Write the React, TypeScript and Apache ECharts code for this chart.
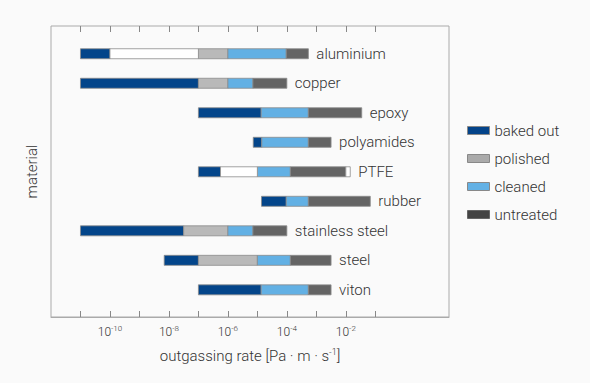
import React, { useEffect, useRef } from "react";
import * as echarts from "echarts";

// Materials (top to bottom)
const categories = ["aluminium", "copper", "epoxy", "polyamides", "PTFE", "rubber", "stainless steel", "steel", "viton"];

// Segments as [start, end] in log10 of outgassing rate (Pa·m·s^-1)
const bakedOut: ([number, number] | null)[] = [[-11, -10], [-11, -7], [-7, -4.87], [-5.14, -4.85], [-7, -6.25], [-4.86, -4.02], [-11, -7.5], [-8.16, -7], [-7, -4.87]];
const polished: ([number, number] | null)[] = [[-7, -6], [-7, -6], null, null, null, null, [-7.5, -6], [-7, -5], null];
const cleaned: ([number, number] | null)[] = [[-6, -4.02], [-6, -5.15], [-4.87, -3.27], [-4.85, -3.27], [-5, -3.88], [-4.02, -3.27], [-6, -5.15], [-5, -3.88], [-4.87, -3.27]];
const untreated: ([number, number] | null)[] = [[-4.02, -3.27], [-5.15, -4], [-3.27, -1.46], [-3.27, -2.5], [-3.88, -2], [-3.27, -1.17], [-5.15, -4], [-3.88, -2.5], [-3.27, -2.5]];
// unassigned (white) ranges: [categoryIndex, start, end]
const unassigned: [number, number, number][] = [[0, -10, -7], [4, -6.25, -5], [4, -2, -1.85]];

const tickExponents = [-11, -10, -9, -8, -7, -6, -5, -4, -3, -2, -1];
const labelExponents = [-10, -8, -6, -4, -2];

const FONT = "Roboto";
const WEIGHT = 300;
const TEXT = "#333";
const BAR_H = 10;
const TICK_LEN = 6;
const Y_MIN = -0.94;
const Y_MAX = 8.92;

function toData(arr: ([number, number] | null)[]) {
  const out: [number, number, number][] = [];
  arr.forEach((seg, i) => {
    if (seg) out.push([seg[0], seg[1], i]);
  });
  return out;
}

function segSeries(name: string, data: [number, number, number][], color: string) {
  return {
    type: "custom",
    name,
    itemStyle: { color, borderColor: "#8a8a8a", borderWidth: 1 },
    encode: { x: [0, 1], y: 2 },
    data,
    renderItem: (params: any, api: any) => {
      const s = api.value(0);
      const e = api.value(1);
      const c = api.value(2);
      const p0 = api.coord([s, c]);
      const p1 = api.coord([e, c]);
      return {
        type: "rect",
        shape: { x: p0[0], y: p0[1] - BAR_H / 2, width: p1[0] - p0[0], height: BAR_H },
        style: { fill: color, stroke: "#8a8a8a", lineWidth: 0.8 },
      };
    },
  };
}

export default function App() {
  const ref = useRef<HTMLDivElement>(null);
  useEffect(() => {
    if (!ref.current) return;
    const chart = echarts.init(ref.current, null, { renderer: "svg" });

    const ends: [number, number, string][] = categories.map((name, i) => {
      let m = -Infinity;
      [bakedOut, polished, cleaned, untreated].forEach((a) => {
        const seg = a[i];
        if (seg) m = Math.max(m, seg[1]);
      });
      unassigned.forEach((u) => {
        if (u[0] === i) m = Math.max(m, u[2]);
      });
      return [m, i, name];
    });

    const supRich = {
      b: { fontSize: 12, color: TEXT, fontFamily: FONT, fontWeight: WEIGHT, lineHeight: 16 },
      s: { fontSize: 8, color: TEXT, fontFamily: FONT, fontWeight: WEIGHT, verticalAlign: "top", lineHeight: 10, padding: [0, 0, 6, 0] },
    };

    chart.setOption({
      animation: false,
      backgroundColor: "#fafafa",
      textStyle: { fontFamily: FONT, fontWeight: WEIGHT },
      grid: { left: 51, right: 141, top: 26, bottom: 66, show: true, borderColor: "#aaa", borderWidth: 1 },
      legend: {
        orient: "vertical",
        left: 462,
        top: 118,
        itemWidth: 22,
        itemHeight: 8,
        itemGap: 13,
        icon: "rect",
        textStyle: { fontSize: 15, color: TEXT, fontFamily: FONT, fontWeight: WEIGHT },
        data: [
          { name: "baked out", itemStyle: { color: "#034389", borderColor: "#888", borderWidth: 1 } },
          { name: "polished", itemStyle: { color: "#aaaaaa", borderColor: "#888", borderWidth: 1 } },
          { name: "cleaned", itemStyle: { color: "#63b1e5", borderColor: "#888", borderWidth: 1 } },
          { name: "untreated", itemStyle: { color: "#444444", borderColor: "#666", borderWidth: 1 } },
        ],
      },
      xAxis: {
        type: "value",
        min: -12,
        max: 1.5,
        position: "bottom",
        axisLine: { show: true, onZero: false, lineStyle: { color: "#aaa" } },
        axisTick: { show: true, inside: true, length: TICK_LEN, customValues: tickExponents, lineStyle: { color: "#888", width: 1 } },
        axisLabel: {
          show: true,
          customValues: labelExponents,
          margin: 7,
          formatter: (v: number) => `{b|10}{s|${v}}`,
          rich: supRich,
        },
        splitLine: { show: false },
        name: "{a|outgassing rate [Pa · m · s}{s|-1}{a|]}",
        nameLocation: "middle",
        nameGap: 30,
        nameTextStyle: {
          rich: {
            a: { fontSize: 15, color: TEXT, fontFamily: FONT, fontWeight: WEIGHT, lineHeight: 18 },
            s: { fontSize: 9, color: TEXT, fontFamily: FONT, fontWeight: WEIGHT, verticalAlign: "top", lineHeight: 10, padding: [0, 0, 8, 0] },
          },
        },
      },
      yAxis: {
        type: "value",
        inverse: true,
        min: Y_MIN,
        max: Y_MAX,
        axisLine: { show: false, onZero: false },
        axisTick: { show: false },
        axisLabel: { show: false },
        splitLine: { show: false },
        name: "material",
        nameLocation: "middle",
        nameRotate: 90,
        nameGap: 12,
        nameTextStyle: { fontSize: 15, color: TEXT, fontFamily: FONT, fontWeight: WEIGHT },
      },
      series: [
        segSeries("baked out", toData(bakedOut), "#03458a"),
        segSeries("polished", toData(polished), "#b9b9b9"),
        segSeries("cleaned", toData(cleaned), "#62b0e4"),
        segSeries("untreated", toData(untreated), "#646464"),
        {
          type: "custom",
          name: "unassigned",
          encode: { x: [1, 2], y: 0 },
          data: unassigned,
          renderItem: (params: any, api: any) => {
            const c = api.value(0);
            const p0 = api.coord([api.value(1), c]);
            const p1 = api.coord([api.value(2), c]);
            return {
              type: "rect",
              shape: { x: p0[0], y: p0[1] - BAR_H / 2, width: p1[0] - p0[0], height: BAR_H },
              style: { fill: "#ffffff", stroke: "#8a8a8a", lineWidth: 0.8 },
            };
          },
        },
        {
          type: "custom",
          name: "labels",
          encode: { x: 0, y: 1 },
          data: ends,
          renderItem: (params: any, api: any) => {
            const p = api.coord([api.value(0), api.value(1)]);
            return {
              type: "text",
              x: p[0] + 8,
              y: p[1],
              style: {
                text: ends[params.dataIndex][2],
                fill: TEXT,
                fontSize: 15,
                fontFamily: FONT,
                fontWeight: WEIGHT,
                verticalAlign: "middle",
                align: "left",
              },
            };
          },
        },
      ],
    });

    // tick marks on the top and bottom edges, positioned through the axis scale
    const top = Number(chart.convertToPixel({ yAxisIndex: 0 }, Y_MIN));
    const bottom = Number(chart.convertToPixel({ yAxisIndex: 0 }, Y_MAX));
    if (isFinite(top) && isFinite(bottom)) {
      const tickEls: any[] = [];
      tickExponents.forEach((t) => {
        const x = Math.round(Number(chart.convertToPixel({ xAxisIndex: 0 }, t)));
        if (!isFinite(x)) return;
        tickEls.push({ type: "rect", silent: true, z: 100, shape: { x: x, y: Math.round(top), width: 1, height: TICK_LEN }, style: { fill: "#888" } });
        tickEls.push({ type: "rect", silent: true, z: 100, shape: { x: x, y: Math.round(bottom) - TICK_LEN, width: 1, height: TICK_LEN }, style: { fill: "#888" } });
      });
      chart.setOption({ graphic: { elements: tickEls } });
    }

    return () => chart.dispose();
  }, []);
  return <div ref={ref} style={{ position: "fixed", left: 0, top: 0, width: 590, height: 383 }} />;
}
